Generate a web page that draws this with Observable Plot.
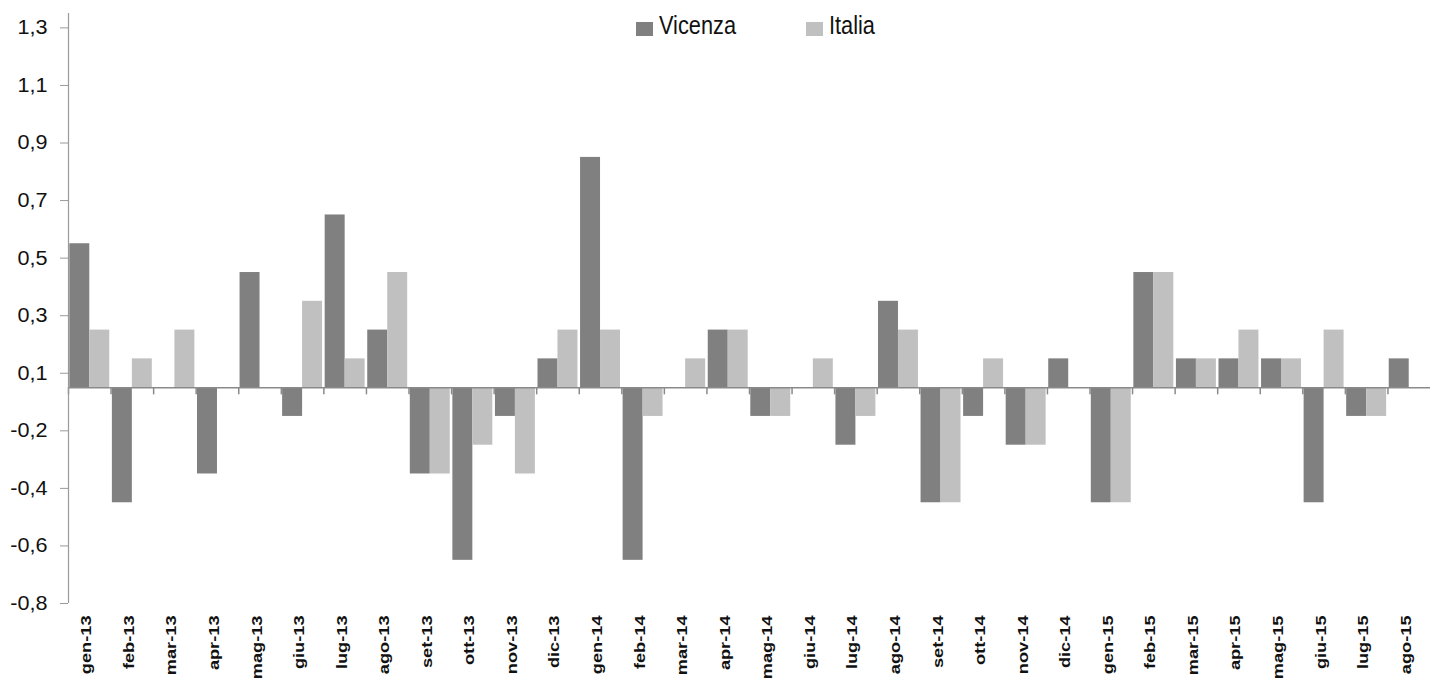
<!DOCTYPE html>
<html>
<head>
<meta charset="utf-8">
<script src="https://cdn.jsdelivr.net/npm/d3@7"></script>
<script src="https://cdn.jsdelivr.net/npm/@observablehq/plot@0.6"></script>
<style>
  html, body { margin: 0; padding: 0; background: #fff; overflow: hidden; }
  #wrap { position: relative; width: 1430px; height: 682px; }
  .lg-sw { position: absolute; width: 17px; height: 14px; }
  .lg-tx { position: absolute; font-family: "Liberation Sans", Arial, sans-serif; font-size: 25px; line-height: 25px;
    color: #111; transform: scaleX(0.87); transform-origin: left top; white-space: nowrap; }
</style>
</head>
<body>
<div id="wrap"></div>
<script>
const months = ["gen-13","feb-13","mar-13","apr-13","mag-13","giu-13","lug-13","ago-13","set-13","ott-13","nov-13","dic-13",
  "gen-14","feb-14","mar-14","apr-14","mag-14","giu-14","lug-14","ago-14","set-14","ott-14","nov-14","dic-14",
  "gen-15","feb-15","mar-15","apr-15","mag-15","giu-15","lug-15","ago-15"];
const vicenza = [0.5,-0.4,0,-0.3,0.4,-0.1,0.6,0.2,-0.3,-0.6,-0.1,0.1,
  0.8,-0.6,0,0.2,-0.1,0,-0.2,0.3,-0.4,-0.1,-0.2,0.1,
  -0.4,0.4,0.1,0.1,0.1,-0.4,-0.1,0.1];
const italia = [0.2,0.1,0.2,0,0,0.3,0.1,0.4,-0.3,-0.2,-0.3,0.2,
  0.2,-0.1,0.1,0.2,-0.1,0.1,-0.1,0.2,-0.4,0.1,-0.2,0,
  -0.4,0.4,0.1,0.2,0.1,0.2,-0.1,0];
const seriesNames = ["Vicenza", "Italia"];
const seriesColors = ["#808080", "#c0c0c0"];
const yTicks = [-0.75,-0.55,-0.35,-0.15,0.05,0.25,0.45,0.65,0.85,1.05,1.25];
const yTickLabels = ["-0,8","-0,6","-0,4","-0,2","0,1","0,3","0,5","0,7","0,9","1,1","1,3"];

const W = 1430, H = 682, mL = 68, mR = 0, mT = 13, mB = 79;
const band = (W - mL - mR) / months.length;
const half = band / 2;
const gap = 1.3;

const dataV = months.map((m, i) => ({month: m, value: vicenza[i], series: seriesNames[0]}));
const dataI = months.map((m, i) => ({month: m, value: italia[i], series: seriesNames[1]}));

const chart = Plot.plot({
  width: W, height: H,
  marginLeft: mL, marginRight: mR, marginTop: mT, marginBottom: mB,
  style: {fontFamily: '"Liberation Sans", Arial, sans-serif', background: "#fff", overflow: "visible"},
  x: {type: "band", domain: months, padding: 0, round: false, label: null},
  y: {domain: [-0.75, 1.3], label: null},
  color: {domain: seriesNames, range: seriesColors},
  marks: [
    Plot.barY(dataV, {x: "month", y: "value", fill: "series", insetLeft: gap, insetRight: half}),
    Plot.barY(dataI, {x: "month", y: "value", fill: "series", insetLeft: half, insetRight: gap}),
    Plot.ruleY([0], {stroke: "#8a8a8a", strokeWidth: 1.5}),
    Plot.ruleX(months, {x: d => d, y1: 0, y2: -0.025, dx: -half, stroke: "#8a8a8a", strokeWidth: 1.5}),
    Plot.ruleX([months[0]], {x: d => d, dx: -half, stroke: "#9a9a9a", strokeWidth: 1.2}),
    Plot.axisY(yTicks, {tickFormat: (d, i) => yTickLabels[i], tickSize: 8, tickPadding: 13,
      fontSize: 20, stroke: "#9a9a9a", fill: "#111", label: null, ariaLabel: "y-axis"}),
    Plot.axisX({anchor: "bottom", tickSize: 0, tickPadding: 12, tickRotate: -90, fontSize: 14,
      fontWeight: "bold", fill: "#111", label: null, ariaLabel: "x-axis", dx: -3})
  ]
});
const wrap = document.getElementById("wrap");
wrap.appendChild(chart);
chart.style.position = "absolute";
chart.style.left = "0"; chart.style.top = "0";

// elongate glyphs along the text direction, like the original condensed fonts
function stretch(selector, factor) {
  d3.select(chart).selectAll(selector).each(function () {
    const len = this.getComputedTextLength();
    this.setAttribute("textLength", (len * factor).toFixed(2));
    this.setAttribute("lengthAdjust", "spacingAndGlyphs");
  });
}
stretch('g[aria-label="x-axis tick label"] text', 1.3);
stretch('g[aria-label="y-axis tick label"] text', 1.08);

// legend
const lgPos = [636, 806];
seriesNames.forEach((name, i) => {
  const sw = document.createElement("div");
  sw.className = "lg-sw";
  sw.style.left = lgPos[i] + "px";
  sw.style.top = "22px";
  sw.style.background = seriesColors[i];
  const t = document.createElement("div");
  t.className = "lg-tx";
  t.style.left = (lgPos[i] + 23) + "px";
  t.style.top = "13px";
  t.textContent = name;
  wrap.appendChild(sw); wrap.appendChild(t);
});
</script>
</body>
</html>
